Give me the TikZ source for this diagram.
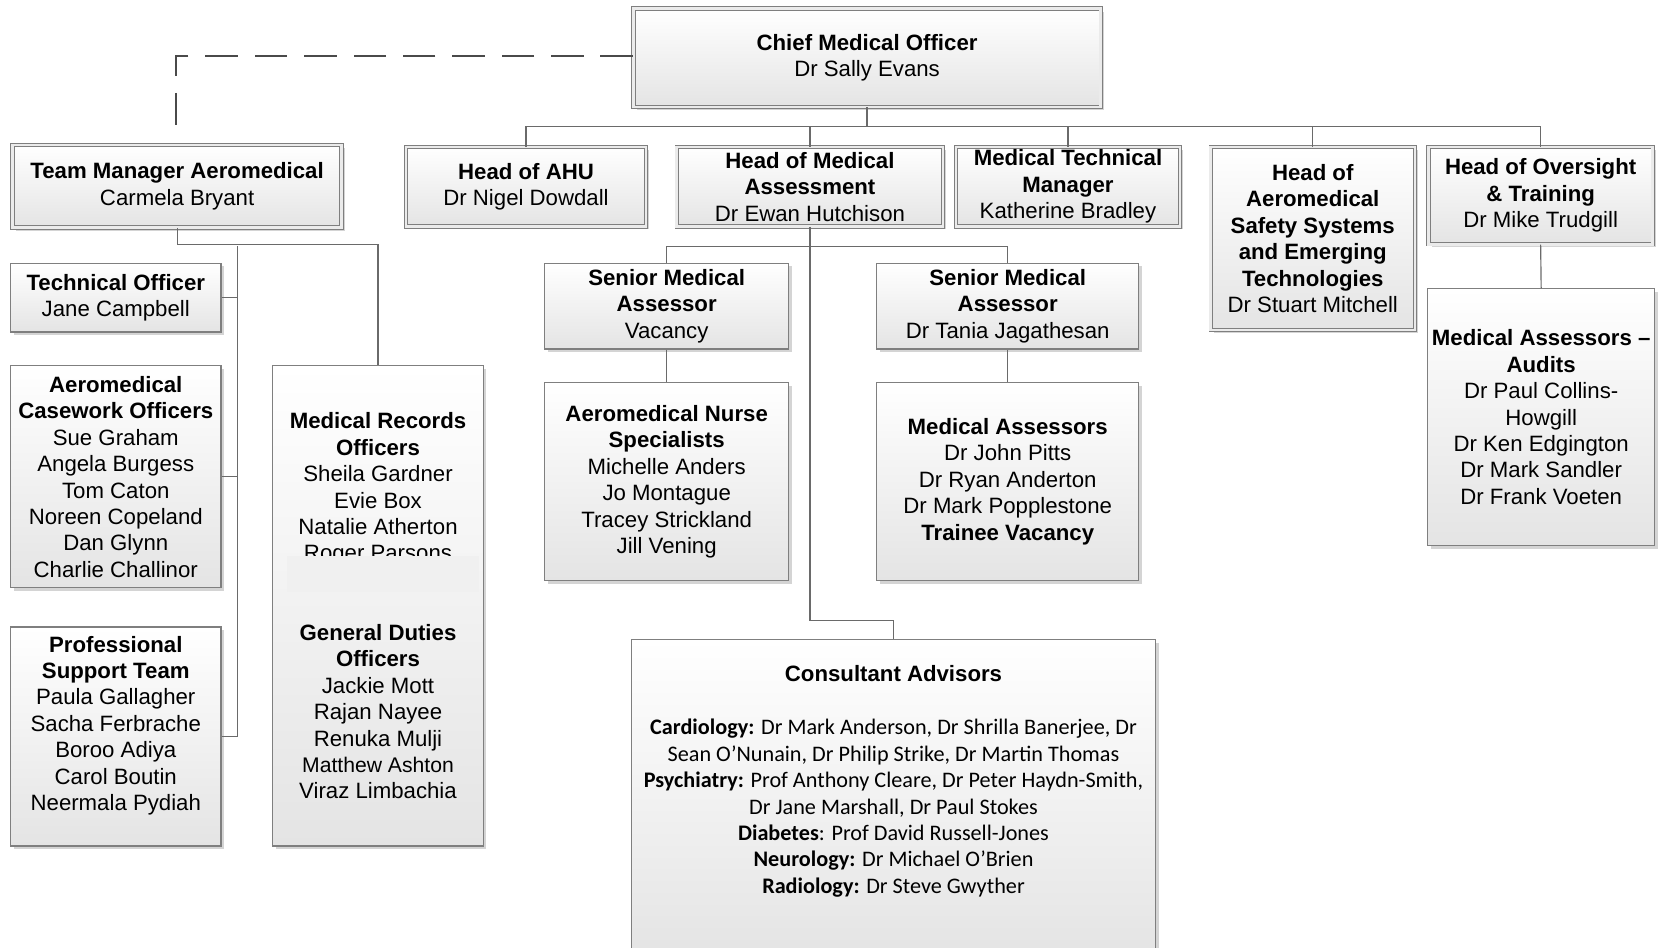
\documentclass[tikz,border=0pt]{standalone}
\usepackage{fontspec}
\setmainfont{Liberation Sans}
\newfontfamily\calfont{Carlito}
\usetikzlibrary{shadows}
\definecolor{linec}{HTML}{6A6A6A}
\definecolor{boxline}{HTML}{7F7F7F}
\definecolor{boxbot}{HTML}{E4E4E4}
\definecolor{dblc}{HTML}{EBEBEB}
\definecolor{bandc}{HTML}{F0F0F0}
\definecolor{dashc}{HTML}{4A4A4A}
\begin{document}
\begin{tikzpicture}[x=1pt,y=-1pt,
  box/.style={draw=boxline, line width=1.1pt, top color=white, bottom color=boxbot,
    inner sep=0pt, align=center, font=\fontsize{21}{25}\selectfont,
    drop shadow={shadow xshift=3pt, shadow yshift=-3pt, fill=black, opacity=0.17}},
  dbox/.style={box, double=dblc, double distance=2.4pt, line width=0.9pt},
  conn/.style={draw=linec, line width=1.1pt},
  dashconn/.style={draw=dashc, line width=1.8pt, dash pattern=on 30.7pt off 16pt}]
\clip (0,0) rectangle (1568,896);
\fill[white] (0,0) rectangle (1568,896);

% level 1
\node[dbox, minimum width=442pt, minimum height=93pt] (cmo) at (820,54.5)
  {\textbf{Chief Medical Officer}\\Dr Sally Evans};

% level 2
\node[dbox, minimum width=311pt, minimum height=78pt] (tm) at (167.5,176)
  {\textbf{Team Manager Aeromedical}\\Carmela Bryant};
\node[dbox, minimum width=227pt, minimum height=75pt] (ahu) at (497.5,176.5)
  {\textbf{Head of AHU}\\Dr Nigel Dowdall};
\node[dbox, minimum width=252pt, minimum height=75pt] (hma) at (766,176.5)
  {\textbf{Head of Medical}\\\textbf{Assessment}\\Dr Ewan Hutchison};
\node[dbox, minimum width=212pt, minimum height=75pt] (mtm) at (1010,176.5)
  {\textbf{Medical Technical}\\\textbf{Manager}\\Katherine Bradley};
\node[dbox, minimum width=193pt, minimum height=173pt] (has) at (1241.5,225.5)
  {\textbf{Head of}\\\textbf{Aeromedical}\\\textbf{Safety Systems}\\\textbf{and Emerging}\\\textbf{Technologies}\\Dr Stuart Mitchell};
\node[dbox, minimum width=212pt, minimum height=92pt] (hot) at (1457,185)
  {\textbf{Head of Oversight}\\\textbf{\& Training}\\Dr Mike Trudgill};

% team manager's staff
\node[box, minimum width=199pt, minimum height=65pt] (to) at (109.5,281.5)
  {\textbf{Technical Officer}\\Jane Campbell};
\node[box, minimum width=199pt, minimum height=210pt] (cw) at (109.5,451)
  {\textbf{Aeromedical}\\\textbf{Casework Officers}\\Sue Graham\\Angela Burgess\\Tom Caton\\Noreen Copeland\\Dan Glynn\\Charlie Challinor};
\node[box, minimum width=199pt, minimum height=207pt] (pst) at (109.5,696.5)
  {\textbf{Professional}\\\textbf{Support Team}\\Paula Gallagher\\Sacha Ferbrache\\Boroo Adiya\\Carol Boutin\\Neermala Pydiah\\\mbox{}};
\node[box, minimum width=199pt, minimum height=454pt] (mr) at (357.5,573)
  {\textbf{Medical Records}\\\textbf{Officers}\\Sheila Gardner\\Evie Box\\Natalie Atherton\\Roger Parsons\\\mbox{}\\\mbox{}\\\textbf{General Duties}\\\textbf{Officers}\\Jackie Mott\\Rajan Nayee\\Renuka Mulji\\{\fontsize{20}{25}\selectfont Matthew Ashton}\\Viraz Limbachia};
\fill[bandc] (271,526) rectangle (453,560);

% medical assessment
\node[box, minimum width=231pt, minimum height=81pt] (sma1) at (630.5,289.5)
  {\textbf{Senior Medical}\\\textbf{Assessor}\\Vacancy};
\node[box, minimum width=248pt, minimum height=81pt] (sma2) at (953,289.5)
  {\textbf{Senior Medical}\\\textbf{Assessor}\\Dr Tania Jagathesan};
\node[box, minimum width=231pt, minimum height=187pt] (ans) at (630.5,455.5)
  {\textbf{Aeromedical Nurse}\\\textbf{Specialists}\\Michelle Anders\\Jo Montague\\Tracey Strickland\\Jill Vening};
\node[box, minimum width=248pt, minimum height=187pt] (ma) at (953,455.5)
  {\textbf{Medical Assessors}\\Dr John Pitts\\Dr Ryan Anderton\\Dr Mark Popplestone\\\textbf{Trainee Vacancy}};
\node[box, minimum width=496pt, minimum height=300pt] (ca) at (845,755) {};
\node[inner sep=0pt, align=center, anchor=north, font=\fontsize{21}{25}\selectfont] (catext) at (845,629.5)
  {\textbf{Consultant Advisors}\\\mbox{}\\
   {\calfont\textbf{Cardiology:} Dr Mark Anderson, Dr Shrilla Banerjee, Dr}\\
   {\calfont Sean O’Nunain, Dr Philip Strike, Dr Martin Thomas}\\
   {\calfont\textbf{Psychiatry:} Prof Anthony Cleare, Dr Peter Haydn-Smith,}\\
   {\calfont Dr Jane Marshall, Dr Paul Stokes}\\
   {\calfont\textbf{Diabetes}: Prof David Russell-Jones}\\
   {\calfont\textbf{Neurology:} Dr Michael O’Brien}\\
   {\calfont\textbf{Radiology:} Dr Steve Gwyther}};

% oversight
\node[box, minimum width=215pt, minimum height=243pt] (maa) at (1457.5,394.5)
  {\textbf{Medical Assessors –}\\\textbf{Audits}\\Dr Paul Collins-\\Howgill\\Dr Ken Edgington\\Dr Mark Sandler\\Dr Frank Voeten};

% connectors
\coordinate (bus) at (820,120);
\draw[conn] (cmo.south) -- (bus);
\draw[conn] (bus) -| (ahu.north);
\draw[conn] (bus) -| (hma.north);
\draw[conn] (bus) -| (mtm.north);
\draw[conn] (bus) -| (has.north);
\draw[conn] (bus) -| (hot.north);
\coordinate (dashend) at (166.5,119);
\draw[dashconn] ([yshift=1.5pt]cmo.west) -| (dashend);

\coordinate (tmk) at (225,233);
\draw[conn] (tm.south) -- ++(0,16) -| (mr.north);
\draw[conn] (tmk) |- (pst.east);
\draw[conn] (to.east) -- (to.east -| tmk);
\draw[conn] (cw.east) -- (cw.east -| tmk);

\coordinate (hmaj) at (766,233);
\draw[conn] (hma.south) -- ++(0,372) -| (ca.north);
\draw[conn] (hmaj) -| (sma1.north);
\draw[conn] (hmaj) -| (sma2.north);
\draw[conn] (sma1.south) -- (ans.north);
\draw[conn] (sma2.south) -- (ma.north);
\draw[conn] (hot.south) -- (maa.north);
\end{tikzpicture}
\end{document}
